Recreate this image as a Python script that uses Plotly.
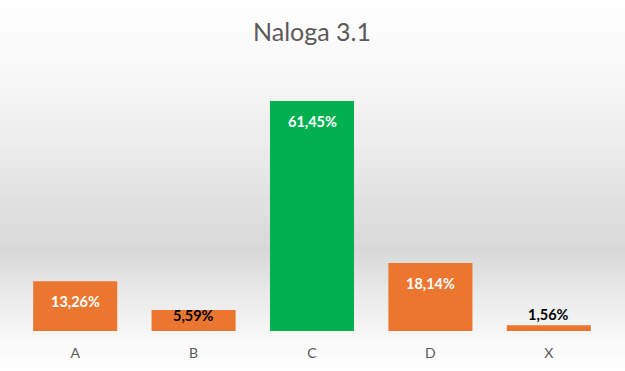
import plotly.graph_objects as go

categories = ["A", "B", "C", "D", "X"]
values = [13.26, 5.59, 61.45, 18.14, 1.56]
bar_colors = ["#EB7630", "#EB7630", "#00B050", "#EB7630", "#EB7630"]
label_colors = ["white", "black", "white", "white", "black"]
label_shifts = [-20, -5, -20, -20, 11]
title_text = "Naloga 3.1"

W, H = 625, 371
T, B = 69, 331
L, R = 16, 608

fig = go.Figure()
fig.add_trace(go.Bar(
    x=categories, y=values,
    marker=dict(color=bar_colors, line=dict(width=0)),
    hoverinfo="skip",
))

for c, v, col, sh in zip(categories, values, label_colors, label_shifts):
    fig.add_annotation(
        x=c, y=v, yshift=sh,
        text=f"{v:.2f}".replace(".", ",") + "%",
        showarrow=False,
        font=dict(family="Lato, Open Sans, sans-serif", size=14.5, color=col, weight="bold"),
    )

# background vertical gradient (pixel stops -> paper coords)
stops = [(0, 255), (100, 244), (250, 216), (300, 236), (345, 250), (371, 255)]
def gray_at(py):
    for (y0, g0), (y1, g1) in zip(stops[:-1], stops[1:]):
        if y0 <= py <= y1:
            t = (py - y0) / (y1 - y0)
            return g0 + (g1 - g0) * t
    return 255

shapes = []
ph = B - T
pw = R - L
step = 3
for py in range(0, H, step):
    g = int(round(gray_at(py + step / 2)))
    shapes.append(dict(
        type="rect", layer="below", xref="paper", yref="paper",
        x0=(0 - L) / pw, x1=(W - L) / pw,
        y0=(B - (py + step)) / ph, y1=(B - py) / ph,
        fillcolor=f"rgb({g},{g},{g})", line=dict(width=0),
    ))

fig.update_layout(
    width=W, height=H,
    margin=dict(l=L, r=W - R, t=T, b=H - B, pad=0, autoexpand=False),
    paper_bgcolor="white",
    plot_bgcolor="rgba(0,0,0,0)",
    shapes=shapes,
    bargap=0.29,
    showlegend=False,
    title=dict(
        text=title_text, x=0.5, xref="paper", xanchor="center",
        y=1 - 32 / H, yref="container", yanchor="middle",
        font=dict(family="Lato, Open Sans, sans-serif", size=25, color="#595959"),
    ),
    xaxis=dict(
        showgrid=False, zeroline=False, showline=False, ticks="",
        ticklabelstandoff=12, automargin=False,
        tickfont=dict(family="Lato, Open Sans, sans-serif", size=14, color="#595959"),
        fixedrange=True,
    ),
    yaxis=dict(
        range=[0, 70], showgrid=False, zeroline=False, showline=False,
        showticklabels=False, ticks="", fixedrange=True, automargin=False,
    ),
)

fig.write_html("out.html")
